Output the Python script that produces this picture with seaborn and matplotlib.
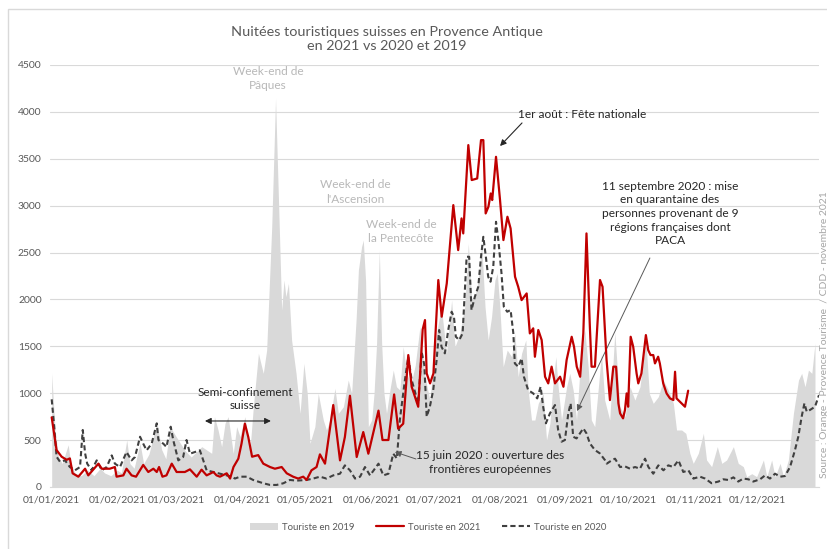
import matplotlib
matplotlib.use("Agg")
import matplotlib.pyplot as plt
import seaborn as sns
import pandas as pd
from matplotlib.patches import Patch, Rectangle
from matplotlib.lines import Line2D

# ---------------- data (day of year 2021, nights) ----------------
tourist_2019 = [(0,1212),(1.6,608),(3.2,323),(5,250),(7.8,450),(9,250),(11,150),(14,120),(17,180),(20,120),
    (23,200),(25,150),(28,120),(31,180),(33,150),(35.5,501),(37,250),(39,200),(41.8,466),(43.5,250),(46,350),
    (49.8,679),(52,400),(54,300),(56,643),(59,533),(63,391),(66,320),(71,430),(75.7,359),(77,750),(78.7,608),
    (80.4,430),(82,679),(83.5,750),(85.9,359),(87.5,643),(89.1,537),(91.4,750),(93.8,394),(95.4,856),
    (97.8,1425),(100.1,1212),(101.7,1460),(104.1,2775),(105.9,4143),(107.2,3131),(108.8,1887),(109.9,2207),
    (110.8,2029),(112.0,2171),(113.5,1567),(115.6,1212),(117.5,785),(119.3,1318),(120.9,998),(122.2,466),
    (124.5,643),(126.1,998),(128.5,714),(130.0,608),(131.6,714),(134.0,1052),(135.6,785),(138.0,856),
    (140.3,1140),(141.9,998),(144.0,1780),(145.1,2313),(146.6,2562),(147.4,2633),(148.5,2200),(149.8,643),
    (151.4,714),(152.5,998),(153.7,1532),(155.0,2526),(156.1,1532),(157.2,998),(158.4,785),(160.0,1034),
    (161.6,1247),(163.1,1069),(164.7,1034),(166.3,1496),(167.9,1212),(170.0,1100),(172.0,1300),(174.2,1709),
    (176.6,1176),(178.9,927),(182.1,1638),(184.3,1922),(186.8,1425),(189.2,1993),(190.8,1496),(193.1,1638),
    (195.4,1922),(197.1,2597),(198.7,1993),(200.2,2029),(201.8,2207),(203.4,2597),(205.0,1922),(206.5,1567),
    (208.1,1816),(209.7,2207),(210.8,2278),(212.0,1922),(213.6,1283),(215.5,1460),(217.6,1389),(219.1,1638),
    (220.7,1176),(222.3,1425),(224.3,1567),(225.4,1034),(227.0,714),(228.6,714),(230.2,892),(232.5,998),
    (234.1,501),(235.7,679),(237.3,1140),(238.5,1389),(239.6,1069),(241.2,714),(243.6,1069),(245.1,1212),
    (246.7,1034),(248.3,714),(249.8,1212),(252.2,1674),(253.8,1283),(255.3,714),(256.9,643),(258.5,1034),
    (260.1,1425),(261.6,927),(264.0,714),(266.4,1650),(268.8,856),(271.2,750),(273.6,1069),(275.9,927),
    (278.3,1069),(279.9,1354),(281.1,1567),(282.7,998),(284.6,892),(287.0,963),(289.3,1140),(291.7,1034),
    (294.1,892),(295.6,608),(298.0,608),(300.0,572),(301.9,359),(303.5,252),(305.9,359),(308.3,572),
    (309.8,288),(312.2,217),(314.9,430),(317.0,252),(319.3,288),(322.5,430),(324.8,252),(327.2,217),
    (328.8,110),(331.2,142),(333.5,110),(336.7,288),(338.3,110),(340.6,288),(342.2,110),(344.6,252),
    (346.2,110),(348.5,288),(350.9,785),(353.3,1140),(354.8,1212),(356.4,1069),(358.0,1247),(359.6,1212),
    (361.1,1532)]

tourist_2021 = [(0,743),(2.3,394),(4.7,323),(7.1,290),(8.6,305),(9.9,146),(12.6,110),(15.8,195),(17.3,124),
    (22.1,249),(23.7,195),(27.5,195),(29.9,213),(30.7,110),(33.9,124),(35.4,195),(37.8,124),(39.9,110),
    (43.3,235),(45.7,160),(48.1,195),(49.7,160),(50.8,213),(52.4,110),(54.3,124),(56.8,249),(59.1,160),
    (63.0,160),(65.4,188),(68.6,110),(70.9,185),(73.3,124),(76.5,160),(78.0,124),(79.6,110),(82.8,146),
    (84.4,90),(86.0,213),(88.3,302),(89.8,462),(91.4,675),(93.0,533),(94.8,323),(97.7,340),(100.1,249),
    (103.3,213),(105.6,195),(108.8,213),(111.2,146),(114.2,110),(116.6,90),(119.0,110),(120.6,75),
    (122.9,178),(125.3,213),(126.9,348),(129.3,249),(133.2,874),(136.4,284),(138.7,533),(141.1,973),
    (144.3,320),(147.4,586),(149.8,355),(154.6,814),(156.5,501),(159.3,501),(162.0,987),(163.9,622),
    (166.3,675),(168.7,1407),(170.3,1069),(173.4,856),(175.5,1680),(176.6,1780),(177.4,1212),(179.0,1105),
    (180.6,1212),(182.9,2207),(184.5,1816),(186.9,2171),(190.0,3006),(192.3,2526),(193.9,2864),(194.7,2704),
    (197.1,3646),(198.7,3273),(201.3,3290),(203.1,3699),(204.2,3699),(205.3,2917),(206.6,2988),(207.7,3130),
    (208.4,3060),(210.2,3521),(212.1,3060),(213.7,2633),(215.6,2882),(217.1,2757),(219.2,2242),(220.7,2135),
    (222.3,1993),(224.7,2064),(226.2,1638),(227.8,1692),(228.6,1389),(230.2,1674),(231.8,1567),(233.4,1176),
    (234.9,1105),(236.5,1283),(238.1,1105),(240.5,1176),(242.1,1069),(243.6,1354),(246.0,1602),(247.1,1496),
    (248.4,1283),(250.0,1176),(251.5,1638),(253.0,2704),(254.6,1709),(255.4,1283),(257.0,1283),(259.4,2207),
    (260.6,2135),(262.5,1354),(264.1,927),(265.7,1283),(267.0,1283),(268.1,892),(268.9,785),(270.3,732),
    (271.2,820),(272.0,998),(272.7,856),(273.9,1602),(275.1,1496),(276.7,1212),(277.5,1105),(279.0,1212),
    (281.1,1620),(282.2,1460),(283.3,1407),(284.6,1407),(285.4,1318),(286.9,1389),(287.7,1318),(289.3,1105),
    (290.9,998),(292.5,945),(294.1,927),(294.9,1229),(295.6,945),(297.2,910),(299.6,856),(301.1,1027)]

tourist_2020 = [(0,935),(1.2,643),(2.3,323),(3.9,270),(6.3,284),(8.6,213),(11.0,178),(13.4,213),(14.7,608),
    (15.8,359),(16.8,249),(18.9,178),(21.3,284),(23.7,178),(26.0,213),(28.4,337),(29.9,249),(32.3,213),
    (35.4,373),(37.8,284),(39.4,320),(41.8,536),(43.3,462),(44.9,391),(47.3,462),(49.7,679),(50.5,501),
    (52.8,462),(54.3,427),(56.3,643),(57.5,501),(59.9,284),(62.2,320),(63.8,501),(65.4,355),(67.8,373),
    (70.1,391),(71.7,284),(73.3,178),(76.5,160),(79.6,142),(82.8,124),(85.2,110),(86.7,90),(89.1,110),
    (92.3,110),(95.3,75),(100.1,40),(103.3,22),(106.4,22),(109.6,40),(112.7,75),(115.8,68),(120.6,75),
    (123.7,90),(126.9,110),(130.0,90),(133.2,124),(136.4,142),(138.7,231),(141.1,178),(143.5,90),(145.9,110),
    (148.2,213),(150.6,124),(154.6,249),(156.9,124),(159.3,142),(161.6,355),(163.3,305),(164.7,714),
    (167.1,1140),(168.7,1389),(170.3,1140),(173.4,892),(175.0,1440),(176.3,1300),(177.4,750),(178.9,856),
    (180.5,1034),(182.1,1354),(183.3,1674),(184.4,1496),(186.0,1425),(187.6,1674),(189.2,1869),(190.3,1816),
    (191.2,1602),(192.8,1567),(194.4,1638),(196.3,2455),(197.5,2455),(198.6,1887),(200.2,2029),(201.8,2135),
    (203.1,2455),(204.2,2668),(205.4,2455),(206.5,2242),(207.6,2189),(208.9,2349),(210.2,2828),(211.3,2633),
    (212.8,2278),(213.9,1922),(215.5,1869),(217.1,1887),(218.4,1638),(219.1,1318),(220.7,1283),(222.3,1372),
    (223.4,1176),(225.4,1034),(227.8,998),(229.7,945),(231.3,1069),(232.5,856),(233.8,679),(235.7,785),
    (238.1,874),(239.6,608),(241.2,483),(242.8,501),(244.4,785),(245.5,892),(246.7,536),(248.3,518),
    (249.9,572),(251.5,625),(253.0,572),(254.6,465),(257.0,394),(259.3,359),(261.7,288),(262.6,249),
    (264.9,284),(266.5,302),(268.9,213),(271.2,220),(273.6,195),(276.0,213),(278.3,195),(280.7,302),
    (282.3,213),(284.6,142),(287.0,231),(289.4,178),(291.7,231),(294.1,213),(296.5,284),(298.8,160),
    (301.2,178),(303.6,90),(306.7,110),(309.1,90),(312.2,40),(315.4,58),(317.7,82),(320.1,75),(322.5,103),
    (324.8,58),(327.2,90),(329.6,82),(331.9,58),(335.1,82),(337.5,124),(339.8,90),(342.2,142),(344.6,110),
    (346.9,117),(349.3,213),(351.6,391),(353.2,536),(354.8,750),(356.1,892),(357.2,803),(358.7,821),
    (361.1,856),(363.0,980)]

y_ticks = [0, 500, 1000, 1500, 2000, 2500, 3000, 3500, 4000, 4500]
month_starts = ["2021-01-01", "2021-02-01", "2021-03-01", "2021-04-01", "2021-05-01", "2021-06-01",
                "2021-07-01", "2021-08-01", "2021-09-01", "2021-10-01", "2021-11-01", "2021-12-01"]
series_labels = ["Touriste en 2019", "Touriste en 2021", "Touriste en 2020"]

# ---------------- figure ----------------
sns.set_theme(style="white")
plt.rcParams['font.family'] = ['Lato', 'DejaVu Sans']

W, H = 828, 549
fig = plt.figure(figsize=(W / 100, H / 100), dpi=100)
fig.patch.set_facecolor("white")
ax = fig.add_axes([50 / W, 1 - 487 / H, (819 - 50) / W, (487 - 65) / H])

GREY_FILL = "#d9d9d9"
RED = "#c00000"
DARK = "#404040"

t19 = pd.DataFrame(tourist_2019, columns=["jour", "nuitees"])
t21 = pd.DataFrame(tourist_2021, columns=["jour", "nuitees"])
t20 = pd.DataFrame(tourist_2020, columns=["jour", "nuitees"])

ax.fill_between(t19["jour"], t19["nuitees"], 0, color=GREY_FILL, lw=0, zorder=1)
sns.lineplot(data=t20, x="jour", y="nuitees", ax=ax, color=DARK, lw=1.5,
             linestyle=(0, (2.5, 1.5)), estimator=None, sort=False, zorder=3)
sns.lineplot(data=t21, x="jour", y="nuitees", ax=ax, color=RED, lw=1.6,
             estimator=None, sort=False, zorder=4)

ax.set_xlim(-0.8, 363)
ax.set_ylim(0, 4500)
ax.set_yticks(y_ticks)
ax.set_yticklabels([str(v) for v in y_ticks])
start = pd.Timestamp("2021-01-01")
xt = [(pd.Timestamp(d) - start).days for d in month_starts]
ax.set_xticks(xt)
ax.set_xticklabels([pd.Timestamp(d).strftime("%d/%m/%Y") for d in month_starts])
ax.set_xlabel("")
ax.set_ylabel("")
ax.set_axisbelow(True)
ax.yaxis.grid(True, color="#d9d9d9", lw=0.8)
ax.xaxis.grid(False)
for s in ["top", "right", "left"]:
    ax.spines[s].set_visible(False)
ax.spines["bottom"].set_color("#d9d9d9")
ax.spines["bottom"].set_linewidth(0.8)
ax.tick_params(axis="both", length=0, labelsize=7.5, labelcolor="#595959")
ax.tick_params(axis="y", pad=6)
ax.tick_params(axis="x", pad=6)
ax.set_facecolor("none")

# ---------------- title, texts ----------------
fig.text(387 / W, 1 - 39 / H,
         "Nuitées touristiques suisses en Provence Antique\nen 2021 vs 2020 et 2019",
         ha="center", va="center", fontsize=10.4, color="#595959", linespacing=1.3)

FS = 8.6
light = "#b8b8b8"
ax.text(102.3, 4360, "Week-end de\nPâques", ha="center", va="center", fontsize=FS,
        color=light, linespacing=1.35)
ax.text(143.7, 3145, "Week-end de\nl'Ascension", ha="center", va="center", fontsize=FS,
        color=light, linespacing=1.35)
ax.text(165.3, 2722, "Week-end de\nla Pentecôte", ha="center", va="center", fontsize=FS,
        color=light, linespacing=1.35)

txt = "#262626"
ax.text(250.9, 3972, "1er août : Fête nationale", ha="center", va="center", fontsize=FS, color=txt)
ax.annotate("", xy=(212.1, 3636), xytext=(222.5, 3882),
            arrowprops=dict(arrowstyle="-|>", color=txt, lw=0.8, mutation_scale=9,
                            shrinkA=0, shrinkB=0))

ax.text(292.5, 2916,
        "11 septembre 2020 : mise\nen quarantaine des\npersonnes provenant de 9\nrégions françaises dont\nPACA",
        ha="center", va="center", fontsize=FS, color=txt, linespacing=1.3)
ax.annotate("", xy=(248.5, 810), xytext=(283.0, 2442),
            arrowprops=dict(arrowstyle="-|>", color="#595959", lw=0.7, mutation_scale=9,
                            shrinkA=0, shrinkB=0))

ax.text(91.5, 938, "Semi-confinement\nsuisse", ha="center", va="center", fontsize=FS,
        color=txt, linespacing=1.3)
ax.annotate("", xy=(72.5, 704), xytext=(103.7, 704),
            arrowprops=dict(arrowstyle="<|-|>", color=txt, lw=0.8, mutation_scale=9,
                            shrinkA=0, shrinkB=0))

ax.text(207.3, 261, "15 juin 2020 : ouverture des\nfrontières européennes", ha="center",
        va="center", fontsize=FS, color=txt, linespacing=1.3)
ax.annotate("", xy=(162.4, 373), xytext=(172.3, 299),
            arrowprops=dict(arrowstyle="-|>", color="#595959", lw=0.7, mutation_scale=9,
                            shrinkA=0, shrinkB=0))

fig.text(825 / W, 1 - 335 / H, "Source : Orange - Provence Tourisme  / CDD - novembre 2021",
         rotation=90, ha="center", va="center", fontsize=7.5, color="#a6a6a6")

# ---------------- legend ----------------
handles = [
    Patch(facecolor=GREY_FILL, edgecolor="none", label=series_labels[0]),
    Line2D([], [], color=RED, lw=1.6, label=series_labels[1]),
    Line2D([], [], color=DARK, lw=1.5, linestyle=(0, (2.5, 1.5)), label=series_labels[2]),
]
fig.legend(handles=handles, loc="center", bbox_to_anchor=(428 / W, 1 - 527 / H), ncol=3,
           frameon=False, fontsize=6.9, labelcolor="#595959", handlelength=2.9,
           handleheight=0.8, handletextpad=0.4, columnspacing=2.3)

# chart border
top = 1 - 9 / H
fig.patches.append(Rectangle((8 / W, -0.1), 1.2, top + 0.1, transform=fig.transFigure,
                             fill=False, edgecolor="#d9d9d9", lw=1.0))

fig.savefig("out.png", dpi=100)
